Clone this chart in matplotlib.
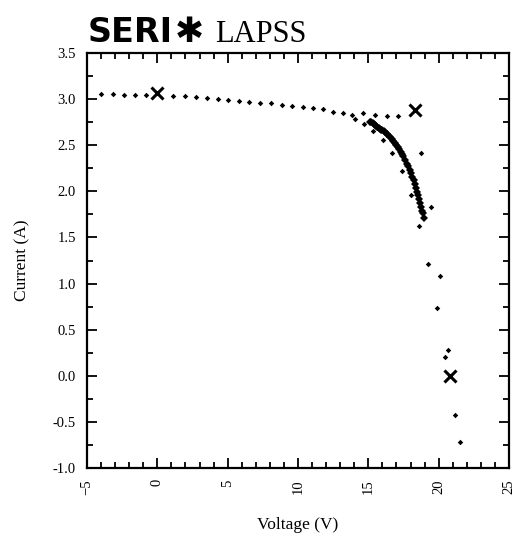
import matplotlib.pyplot as plt
from matplotlib.ticker import MultipleLocator, FormatStrFormatter

plt.rcParams['font.family'] = ['Liberation Serif', 'DejaVu Serif']

# sparse sweep points (V, A)
sweep_v = [-4.03, -3.17, -2.37, -1.57, -0.81, 1.13, 1.97, 2.73, 3.51, 4.29,
           5.04, 5.80, 6.54, 7.30, 8.06, 8.84, 9.59, 10.37, 11.08, 11.8,
           12.5, 13.2, 13.87, 14.64, 15.47, 16.30, 17.12,
           14.05, 14.69, 15.35, 16.06, 16.65, 17.36, 18.0, 18.6, 18.71, 19.49,
           19.26, 20.09, 19.9, 20.68, 20.47, 21.15, 21.5]
sweep_i = [3.06, 3.06, 3.05, 3.045, 3.045, 3.03, 3.03, 3.02, 3.01, 3.00,
           2.99, 2.98, 2.97, 2.96, 2.955, 2.94, 2.93, 2.92, 2.90, 2.89,
           2.86, 2.85, 2.83, 2.85, 2.83, 2.82, 2.82,
           2.78, 2.73, 2.65, 2.56, 2.42, 2.22, 1.96, 1.62, 2.42, 1.83,
           1.21, 1.08, 0.73, 0.28, 0.20, -0.43, -0.72]

# dense part of the curve
knee_v = [15.11, 15.2, 15.3, 15.4, 15.47, 15.55, 15.65, 15.75, 15.82, 15.92,
          16.0, 16.1, 16.18, 16.3, 16.42, 16.54, 16.65, 16.77, 16.89, 17.0,
          17.1, 17.2, 17.3, 17.4, 17.48, 17.6, 17.72, 17.84, 17.96, 18.05,
          18.14, 18.22, 18.31, 18.39, 18.47, 18.54, 18.6, 18.7, 18.78, 18.85,
          18.9, 18.95]
knee_i = [2.755, 2.75, 2.74, 2.73, 2.72, 2.71, 2.70, 2.69, 2.68, 2.67,
          2.66, 2.65, 2.64, 2.625, 2.61, 2.59, 2.57, 2.55, 2.52, 2.50,
          2.48, 2.46, 2.43, 2.40, 2.38, 2.34, 2.30, 2.27, 2.23, 2.20,
          2.16, 2.12, 2.08, 2.04, 1.995, 1.96, 1.92, 1.87, 1.83, 1.79,
          1.76, 1.71]

# Isc, max power, Voc markers
cross_v = [0.0, 18.35, 20.8]
cross_i = [3.07, 2.88, 0.0]

fig = plt.figure(figsize=(5.2, 5.35), dpi=100)
ax = fig.add_axes([0.1673, 0.1252, 0.8115, 0.7757])

ax.plot(sweep_v, sweep_i, 'D', color='black', markersize=2.8, markeredgewidth=0)
ax.plot(knee_v, knee_i, 'D', color='black', markersize=4, markeredgewidth=0)
ax.plot(cross_v, cross_i, 'x', color='black', markersize=9, markeredgewidth=2.2)

ax.set_xlim(-5, 25)
ax.set_ylim(-1.0, 3.5)
ax.xaxis.set_major_locator(MultipleLocator(5))
ax.xaxis.set_minor_locator(MultipleLocator(1))
ax.yaxis.set_major_locator(MultipleLocator(0.5))
ax.yaxis.set_minor_locator(MultipleLocator(0.25))
ax.yaxis.set_major_formatter(FormatStrFormatter('%.1f'))
ax.tick_params(which='both', direction='in', top=True, right=True,
               width=1.3, labelsize=10.5, pad=8)
ax.tick_params(which='major', length=7)
ax.tick_params(which='minor', length=4)
plt.setp(ax.get_xticklabels(), rotation=90)
for s in ax.spines.values():
    s.set_linewidth(1.6)

ax.set_xlabel('Voltage (V)', fontsize=12.5, labelpad=16)
ax.set_ylabel('Current (A)', fontsize=12.5, labelpad=16)

# logo header
fig.text(0.168, 0.922, 'SERI', fontsize=24, fontweight='black',
         family=['DejaVu Sans'], va='baseline', ha='left')
fig.text(0.336, 0.922, '\u2731', fontsize=25, family=['DejaVu Sans'],
         va='baseline', ha='left', fontweight='bold')
fig.text(0.413, 0.922, 'LAPSS', fontsize=22, va='baseline', ha='left')

fig.savefig('out.png', dpi=100)
